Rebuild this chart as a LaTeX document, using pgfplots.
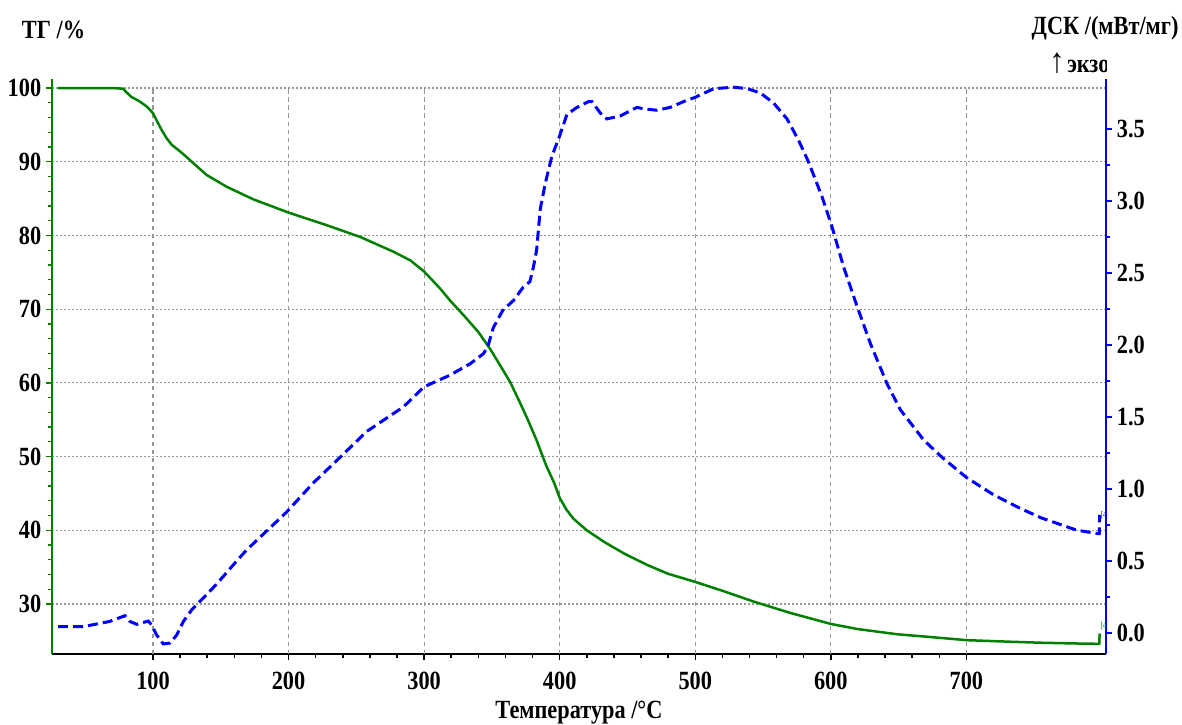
\documentclass[border=0pt]{standalone}
\usepackage{fontspec}
\setmainfont{Liberation Serif}[FakeStretch=0.85]
\usepackage{pgfplots}
\pgfplotsset{compat=1.18}

\definecolor{tggreen}{RGB}{0,128,0}
\definecolor{dscblue}{RGB}{0,0,255}
\definecolor{gridgray}{RGB}{150,150,150}

\newcommand{\lblfont}{\bfseries\fontsize{10.5}{12}\selectfont}

\pgfplotsset{
  base/.style={
    at={(20.8pt,28pt)}, anchor=south west,
    scale only axis, width=421.6pt, height=230pt,
    xmin=25.5, xmax=803,
    tick align=outside,
    major tick length=2.2pt, minor tick length=1.6pt,
    tick label style={font=\lblfont},
    /pgf/number format/assume math mode=true,
    clip=true,
  },
}

\begin{document}
\begin{tikzpicture}
\path[use as bounding box] (0,0) rectangle (472.8pt,289.6pt);

% bottom axis (temperature) and vertical grid
\begin{axis}[base,
  axis x line*=bottom, axis y line=none,
  ymin=23.22, ymax=101.22,
  xtick={100,200,...,700}, minor x tick num=4,
  x axis line style={draw=black, line width=1pt, -},
  tick style={draw=black, line width=0.6pt},
  xticklabel style={yshift=-1.4pt},
]
  \pgfplotsinvokeforeach{100,200,300,400,500,600,700}{
    \draw[gridgray, line width=0.45pt, dash pattern=on 1.8pt off 1.4pt]
      (axis cs:#1,23.22) -- (axis cs:#1,100);
  }
\end{axis}

% left axis: TG
\begin{axis}[base,
  axis y line*=left, axis x line=none,
  ymin=23.22, ymax=101.22,
  ytick={30,40,...,100}, minor y tick num=4,
  ymajorgrids,
  major grid style={draw=gridgray, line width=0.45pt, dash pattern=on 0.8pt off 0.8pt},
  y axis line style={draw=tggreen, line width=0.8pt, -},
  tick style={draw=tggreen, line width=0.5pt},
  yticklabel style={xshift=1.4pt},
]
  \addplot[tggreen, line width=1pt] coordinates {
    (30,100) (50,100) (70,100) (78,99.9) (80,99.5) (84,98.8) (90,98.2)
    (95.3,97.5) (100,96.6) (103,95.5) (106.4,94.3) (110,93.2) (113.8,92.3)
    (120,91.4) (125,90.6) (129.8,89.8) (139.6,88.2) (154.4,86.6) (174,84.9)
    (200,83.1) (228,81.4) (252.8,79.8) (277.3,77.8) (290,76.6) (300,75.1)
    (311.8,72.8) (319,71.2) (330,69.0) (340,66.9) (348.7,64.6) (355,62.7)
    (363.5,60.1) (370,57.6) (376,55.2) (383,52.2) (390,48.8) (396,46.4)
    (400,44.4) (405,42.8) (410,41.6) (420,40.0) (433,38.4) (448,36.8)
    (464.6,35.3) (480,34.1) (500,33.0) (520,31.8) (543.6,30.3) (570,28.8)
    (600,27.3) (620,26.6) (649,25.9) (675,25.5) (700,25.1) (730,24.9)
    (755,24.75) (780,24.65) (798,24.6) (798.3,26.0)
  };
\end{axis}

% right axis: DSC
\begin{axis}[base,
  axis y line*=right, axis x line=none,
  ymin=-0.146, ymax=3.847,
  ytick={0,0.5,...,3.5}, minor y tick num=1,
  yticklabel style={xshift=-1.4pt,
    /pgf/number format/fixed,
    /pgf/number format/fixed zerofill,
    /pgf/number format/precision=1},
  y axis line style={draw=dscblue, line width=0.8pt, -},
  tick style={draw=dscblue, line width=0.5pt},
]
  \addplot[dscblue, line width=1.2pt, dash pattern=on 4pt off 2pt] coordinates {
    (30,0.044) (48.5,0.044) (68,0.08) (79.3,0.12) (83,0.08) (88,0.06)
    (96.5,0.083) (99,0.056) (102.7,-0.014) (107.6,-0.076) (112.5,-0.07)
    (117.5,-0.014) (122.4,0.08) (128.5,0.16) (134.7,0.22) (147,0.34)
    (161.7,0.50) (169,0.576) (198.6,0.84) (218,1.04) (238,1.22) (257.7,1.40)
    (284.7,1.57) (300,1.71) (319,1.79) (334,1.87) (343.8,1.94) (347,1.99)
    (351,2.12) (358,2.24) (366,2.31) (373,2.40) (378,2.44) (380.6,2.54)
    (383,2.66) (385.6,2.94) (389.3,3.12) (394.2,3.31) (399.9,3.45)
    (405.3,3.60) (412.7,3.65) (421.3,3.69) (423.8,3.69) (430,3.61)
    (434.8,3.57) (444.6,3.59) (457,3.65) (461.8,3.64) (471.7,3.63)
    (481.5,3.65) (491.4,3.69) (500,3.72) (513.7,3.78) (528.4,3.79)
    (538.3,3.78) (548,3.75) (557.8,3.68) (567.7,3.57) (576.3,3.42)
    (583.6,3.27) (593.5,3.03) (600.9,2.82) (609.5,2.54) (619.3,2.27)
    (629.2,2.01) (641.5,1.73) (651.3,1.55) (668.5,1.34) (682,1.22)
    (700,1.08) (720,0.96) (738.7,0.87) (755,0.80) (781,0.715) (797,0.69)
    (798,0.69) (798.3,0.82)
  };
\end{axis}

% titles
\node[anchor=west, font=\lblfont, inner sep=0pt] at (8.6pt,277.6pt) {ТГ /\%};
\node[anchor=east, font=\lblfont, inner sep=0pt] at (471.6pt,278.4pt) {ДСК /(мВт/мг)};
\node[anchor=base west, inner sep=0pt, font=\fontsize{14}{14}\selectfont] at (419.6pt,260.4pt) {↑};
\begin{scope}
  \clip (424pt,252pt) rectangle (442.4pt,275pt);
  \node[anchor=base west, inner sep=0pt, font=\lblfont] at (426.7pt,260.4pt) {экзо};
\end{scope}
% small end-of-curve markers
\node[anchor=west, inner sep=0pt, text=dscblue, font=\fontsize{3.5}{4}\selectfont] at (440pt,83.6pt) {[4};
\node[anchor=west, inner sep=0pt, text=tggreen, font=\fontsize{3.5}{4}\selectfont] at (440pt,39.2pt) {[4};
\node[anchor=base, font=\lblfont, inner sep=0pt] at (231.6pt,2.4pt) {Температура /°C};
\end{tikzpicture}
\end{document}
